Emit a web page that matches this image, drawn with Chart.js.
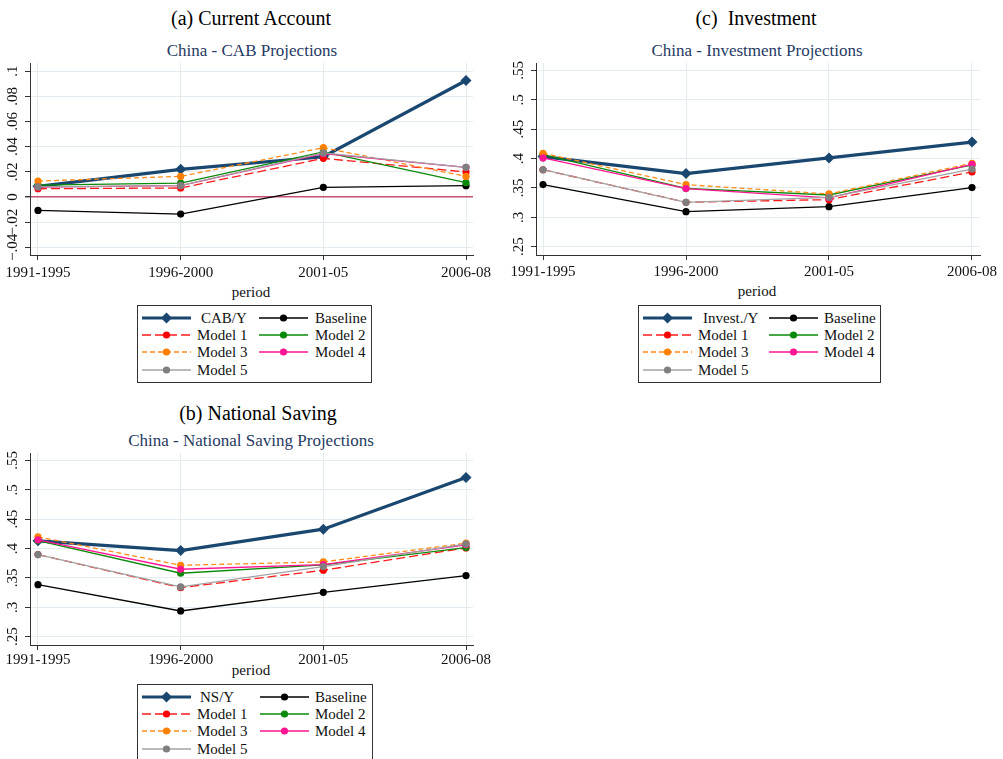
<!DOCTYPE html>
<html>
<head>
<meta charset="utf-8">
<script src="https://cdn.jsdelivr.net/npm/chart.js@4.4.0/dist/chart.umd.min.js"></script>
<style>
  body { margin: 0; background: #fff; font-family: "Liberation Serif", "DejaVu Serif", serif; }
  #page { position: relative; width: 1003px; height: 759px; overflow: hidden; background: #fff; }
  .txt { position: absolute; white-space: nowrap; transform: translate(-50%, -50%); }
  .title { font-size: 20px; color: #000; }
  .sub { font-size: 17px; color: #263a63; }
  .axt { font-size: 15px; color: #111; }
  canvas { position: absolute; }
  .legend { position: absolute; border: 1px solid #333; background: #fff; height: 76px; }
  .legend svg { position: absolute; }
  .legend span { position: absolute; font-size: 15px; line-height: 16px; color: #111; white-space: nowrap; }
</style>
</head>
<body>
<div id="page">
  <div class="txt title" style="left:251px; top:18px;">(a) Current Account</div>
  <div class="txt sub" style="left:252px; top:51px;">China - CAB Projections</div>
  <div class="txt axt" style="left:251px; top:292px;">period</div>

  <div class="txt title" style="left:756px; top:18px;">(c)&nbsp; Investment</div>
  <div class="txt sub" style="left:757px; top:51px;">China - Investment Projections</div>
  <div class="txt axt" style="left:757px; top:291px;">period</div>

  <div class="txt title" style="left:258px; top:413px;">(b) National Saving</div>
  <div class="txt sub" style="left:251px; top:441px;">China - National Saving Projections</div>
  <div class="txt axt" style="left:251px; top:670px;">period</div>
</div>

<script>
// categories and tick labels
const periods = ['1991-1995', '1996-2000', '2001-05', '2006-08'];
const modelNames = ['Baseline', 'Model 1', 'Model 2', 'Model 3', 'Model 4', 'Model 5'];

const cabTicks = [-0.04, -0.02, 0, 0.02, 0.04, 0.06, 0.08, 0.1];
const cabTickLabels = ['\u2212.04', '\u2212.02', '0', '.02', '.04', '.06', '.08', '.1'];
const shareTicks = [0.25, 0.3, 0.35, 0.4, 0.45, 0.5, 0.55];
const shareTickLabels = ['.25', '.3', '.35', '.4', '.45', '.5', '.55'];

// (a) current account / GDP
const cabActual   = [0.0085, 0.022, 0.032, 0.0925];
const cabBaseline = [-0.0106, -0.0135, 0.0077, 0.009];
const cabModel1   = [0.0066, 0.0072, 0.0307, 0.0199];
const cabModel2   = [0.0095, 0.0111, 0.0358, 0.0114];
const cabModel3   = [0.0127, 0.0164, 0.0392, 0.0164];
const cabModel4   = [0.0078, 0.009, 0.0344, 0.0236];
const cabModel5   = [0.0080, 0.009, 0.035, 0.0236];

// (c) investment / GDP
const invActual   = [0.4034, 0.3744, 0.4011, 0.428];
const invBaseline = [0.3557, 0.3097, 0.3182, 0.3506];
const invModel1   = [0.381, 0.3256, 0.3301, 0.3773];
const invModel2   = [0.4068, 0.3494, 0.338, 0.3892];
const invModel3   = [0.409, 0.3557, 0.3398, 0.392];
const invModel4   = [0.401, 0.349, 0.333, 0.39];
const invModel5   = [0.381, 0.3256, 0.334, 0.382];

// (b) national saving / GDP
const nsActual   = [0.4131, 0.3966, 0.433, 0.521];
const nsBaseline = [0.3386, 0.2938, 0.3256, 0.354];
const nsModel1   = [0.3898, 0.3335, 0.3631, 0.4011];
const nsModel2   = [0.4136, 0.358, 0.3722, 0.4017];
const nsModel3   = [0.4199, 0.3716, 0.3773, 0.4091];
const nsModel4   = [0.4148, 0.3648, 0.3727, 0.4063];
const nsModel5   = [0.3898, 0.3347, 0.3693, 0.408];

const FONT = '"Liberation Serif", "DejaVu Serif", serif';
const gridColor = '#e3edf0';
const axisColor = '#333';

// look of each series: actual, baseline, models 1-5
const styles = [
    { line: '#1a476f', dot: '#1a476f', width: 3.2, dash: [], marker: 'rectRot', r: 5.5 },
    { line: '#000000', dot: '#000000', width: 1.3, dash: [], marker: 'circle', r: 3.6 },
    { line: '#ff1a1a', dot: '#ff0000', width: 1.3, dash: [9, 4], marker: 'circle', r: 3.6 },
    { line: '#0a8a0a', dot: '#0a8a0a', width: 1.3, dash: [], marker: 'circle', r: 3.6 },
    { line: '#ff8c1a', dot: '#ff8000', width: 1.3, dash: [5, 3], marker: 'circle', r: 3.6 },
    { line: '#ff1493', dot: '#ff1493', width: 1.3, dash: [], marker: 'circle', r: 3.6 },
    { line: '#a3a3a3', dot: '#7f7f7f', width: 1.3, dash: [], marker: 'circle', r: 3.6 }
];

const page = document.getElementById('page');

function makePanel(p) {
    const canvas = document.createElement('canvas');
    const w = p.right - p.left + 57;
    const h = p.bottom - p.top + 53;
    canvas.width = w;
    canvas.height = h;
    canvas.style.left = (p.left - 30) + 'px';
    canvas.style.top = (p.top - 8) + 'px';
    page.appendChild(canvas);

    const names = [p.actualName].concat(modelNames);
    const datasets = p.series.map((vals, i) => ({
        label: names[i],
        data: vals.map((v, k) => ({ x: k, y: v })),
        borderColor: styles[i].line,
        backgroundColor: styles[i].dot,
        borderWidth: styles[i].width,
        borderDash: styles[i].dash,
        pointStyle: styles[i].marker,
        pointRadius: styles[i].r,
        pointBackgroundColor: styles[i].dot,
        pointBorderWidth: 0,
        tension: 0,
        fill: false,
        order: p.series.length - i
    }));

    // vertical tick labels, as in the source figure
    const yLabels = {
        id: 'yLabels',
        afterDraw(chart) {
            const ys = chart.scales.y;
            const ctx = chart.ctx;
            ctx.save();
            ctx.fillStyle = '#111';
            ctx.font = '15px ' + FONT;
            ctx.textAlign = 'center';
            ctx.textBaseline = 'middle';
            p.ticks.forEach((v, k) => {
                const y = ys.getPixelForValue(v);
                ctx.save();
                ctx.translate(chart.chartArea.left - 16.5, y);
                ctx.rotate(-Math.PI / 2);
                ctx.fillText(p.tickLabels[k], 0, 0);
                ctx.restore();
            });
            ctx.restore();
        }
    };

    new Chart(canvas.getContext('2d'), {
        type: 'line',
        data: { datasets: datasets },
        options: {
            responsive: false,
            animation: false,
            layout: { padding: { left: 0, top: 8, right: 27, bottom: 0 } },
            plugins: { legend: { display: false }, tooltip: { enabled: false } },
            scales: {
                x: {
                    type: 'linear',
                    min: p.xMin,
                    max: p.xMax,
                    afterBuildTicks: s => { s.ticks = periods.map((_, k) => ({ value: k })); },
                    afterFit: s => { s.height = 45; },
                    ticks: {
                        autoSkip: false, maxRotation: 0, padding: p.xPad, color: '#111',
                        font: { family: FONT, size: 15 },
                        callback: v => periods[v]
                    },
                    grid: { color: gridColor, tickColor: axisColor, tickLength: 5, lineWidth: 1 },
                    border: { color: axisColor, width: 1 }
                },
                y: {
                    type: 'linear',
                    min: p.yMin,
                    max: p.yMax,
                    afterBuildTicks: s => { s.ticks = p.ticks.map(v => ({ value: v })); },
                    afterFit: s => { s.width = 30; },
                    ticks: { display: false },
                    grid: {
                        color: c => (p.zeroLine && c.tick && c.tick.value === 0) ? '#c8506f' : gridColor,
                        lineWidth: c => (p.zeroLine && c.tick && c.tick.value === 0) ? 1.4 : 1,
                        tickColor: axisColor, tickLength: 5
                    },
                    border: { color: axisColor, width: 1 }
                }
            }
        },
        plugins: [yLabels]
    });
}

function makeLegend(l) {
    const box = document.createElement('div');
    box.className = 'legend';
    box.style.left = l.left + 'px';
    box.style.top = l.top + 'px';
    box.style.width = l.width + 'px';
    page.appendChild(box);

    const names = [l.actualName].concat(modelNames);
    names.forEach((name, i) => {
        const row = Math.floor(i / 2);
        const col = i % 2;
        const cy = 11.5 + row * 17.4;
        const lx = col === 0 ? 4 : l.col2Line;
        const tx = col === 0 ? 59 : l.col2Text;
        const s = styles[i];
        const ns = 'http://www.w3.org/2000/svg';
        const svg = document.createElementNS(ns, 'svg');
        svg.setAttribute('width', 49);
        svg.setAttribute('height', 14);
        svg.style.left = lx + 'px';
        svg.style.top = (cy - 7) + 'px';
        const ln = document.createElementNS(ns, 'line');
        ln.setAttribute('x1', 0); ln.setAttribute('x2', 49);
        ln.setAttribute('y1', 7); ln.setAttribute('y2', 7);
        ln.setAttribute('stroke', s.line);
        ln.setAttribute('stroke-width', s.width);
        if (s.dash.length) ln.setAttribute('stroke-dasharray', s.dash.join(' '));
        svg.appendChild(ln);
        let mk;
        if (s.marker === 'rectRot') {
            mk = document.createElementNS(ns, 'polygon');
            mk.setAttribute('points', '24.5,1.5 30,7 24.5,12.5 19,7');
        } else {
            mk = document.createElementNS(ns, 'circle');
            mk.setAttribute('cx', 24.5); mk.setAttribute('cy', 7); mk.setAttribute('r', 3.6);
        }
        mk.setAttribute('fill', s.dot);
        svg.appendChild(mk);
        box.appendChild(svg);

        const t = document.createElement('span');
        t.textContent = name;
        t.style.left = (tx + (i === 0 ? l.firstShift : 0)) + 'px';
        t.style.top = (cy - 8) + 'px';
        box.appendChild(t);
    });
}

makePanel({
    left: 30, top: 63, right: 473, bottom: 255,
    xMin: -0.056, xMax: 3.049, yMin: -0.046, yMax: 0.1064, xPad: 4.5,
    ticks: cabTicks, tickLabels: cabTickLabels, zeroLine: true,
    actualName: 'CAB/Y',
    series: [cabActual, cabBaseline, cabModel1, cabModel2, cabModel3, cabModel4, cabModel5]
});
makePanel({
    left: 536, top: 63, right: 980, bottom: 255,
    xMin: -0.049, xMax: 3.056, yMin: 0.2359, yMax: 0.5626, xPad: 3,
    ticks: shareTicks, tickLabels: shareTickLabels, zeroLine: false,
    actualName: 'Invest./Y',
    series: [invActual, invBaseline, invModel1, invModel2, invModel3, invModel4, invModel5]
});
makePanel({
    left: 30, top: 453, right: 473, bottom: 645,
    xMin: -0.056, xMax: 3.049, yMin: 0.2359, yMax: 0.5626, xPad: 1.5,
    ticks: shareTicks, tickLabels: shareTickLabels, zeroLine: false,
    actualName: 'NS/Y',
    series: [nsActual, nsBaseline, nsModel1, nsModel2, nsModel3, nsModel4, nsModel5]
});

makeLegend({ left: 137, top: 305, width: 233, col2Line: 121, col2Text: 177, firstShift: 4, actualName: 'CAB/Y' });
makeLegend({ left: 638, top: 305, width: 241, col2Line: 130, col2Text: 185, firstShift: 5, actualName: 'Invest./Y' });
makeLegend({ left: 137, top: 684, width: 234, col2Line: 122, col2Text: 177, firstShift: 3, actualName: 'NS/Y' });
</script>
</body>
</html>
